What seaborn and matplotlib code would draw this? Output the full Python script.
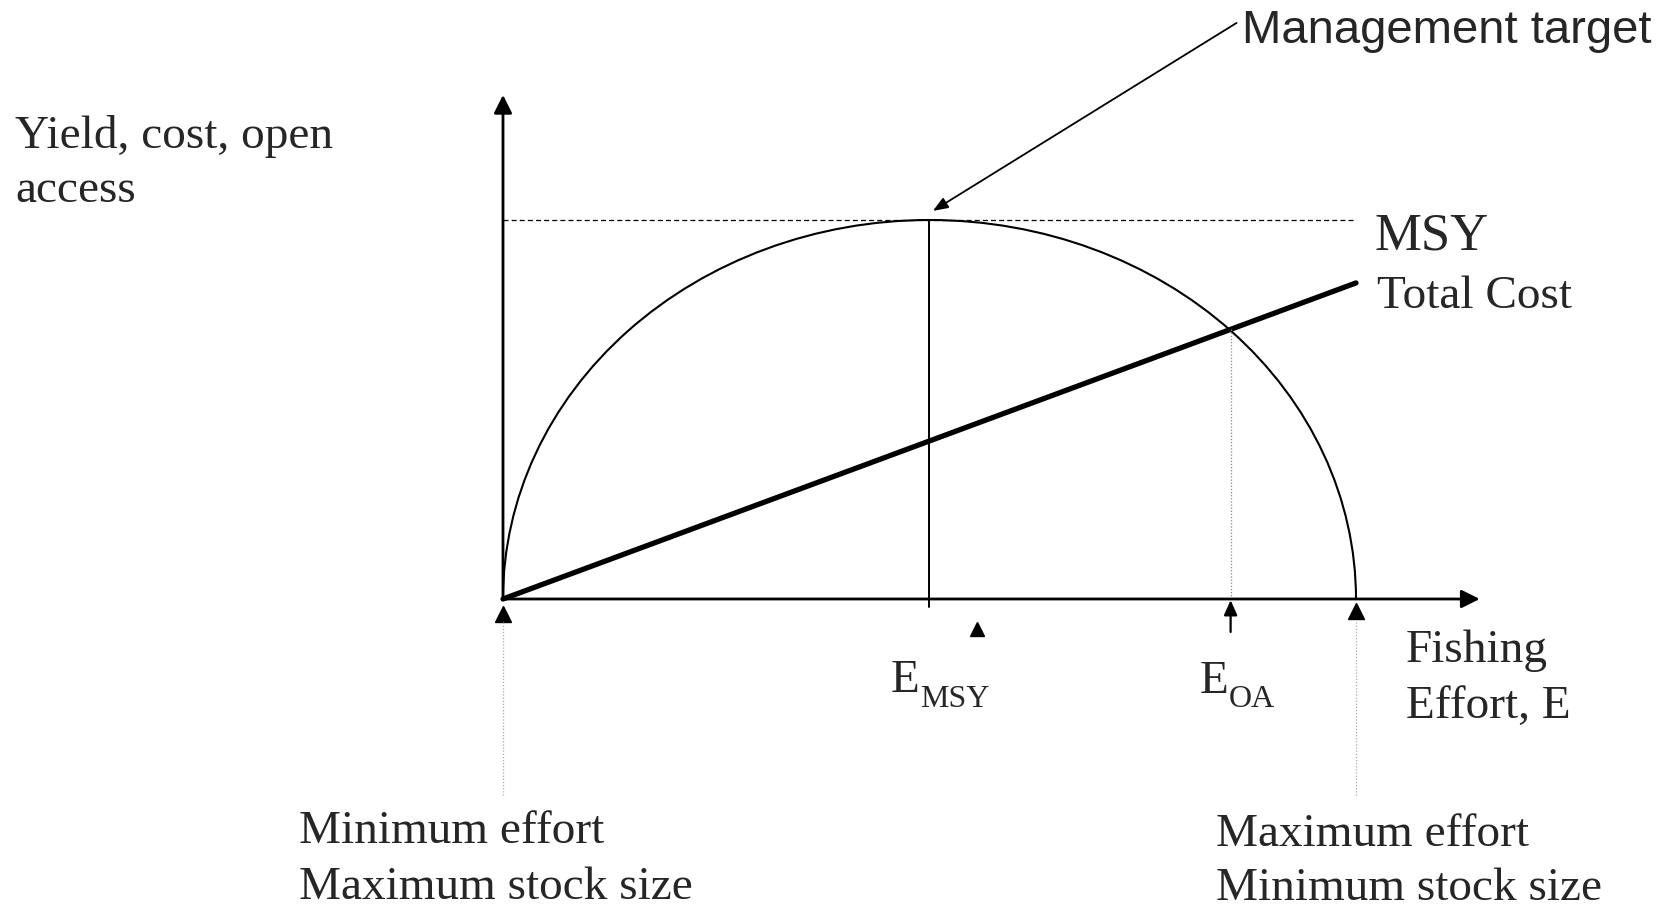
import matplotlib
matplotlib.use("Agg")
import matplotlib.pyplot as plt
from matplotlib.patches import Arc
import seaborn as sns

# conceptual bioeconomic model, effort scaled so that E_max = 100 and MSY = 100
EFFORT = [0, 100]
TOTAL_COST = [0, 83.4]
E_MSY = 50
MSY = 100
E_OA = 85.3
E_MAX = 100
X_AXIS_END = 114.5
Y_AXIS_END = 133

W, H = 1668, 911
X0_PX, Y0_PX = 503, 599      # origin in pixels
PX_X, PX_Y = 8.53, 3.79      # pixels per unit

sns.set_style("white")
plt.rcParams["font.family"] = ["Liberation Serif", "DejaVu Serif"]

fig = plt.figure(figsize=(W / 100, H / 100), dpi=100)
ax = fig.add_axes([0, 0, 1, 1])
ax.set_xlim(-X0_PX / PX_X, (W - X0_PX) / PX_X)
ax.set_ylim(-(H - Y0_PX) / PX_Y, Y0_PX / PX_Y)
ax.axis("off")


def fxy(px, py):
    return px / W, 1 - py / H


def label(px, py, s, size=34, **kw):
    x, y = fxy(px, py)
    fig.text(x, y, s, fontsize=size, va="baseline", ha="left", **kw)


# axes with arrow heads
arrow = dict(arrowstyle="-|>,head_length=1.1,head_width=0.55", color="black", lw=2.0,
             shrinkA=0, shrinkB=0)
ax.annotate("", xy=(X_AXIS_END, 0), xytext=(0, 0), arrowprops=arrow)
ax.annotate("", xy=(0, Y_AXIS_END), xytext=(0, 0), arrowprops=arrow)

# yield curve (semi-ellipse) and total cost
ax.add_patch(Arc((E_MSY, 0), E_MAX, 2 * MSY, theta1=0, theta2=180, color="black", lw=1.5))
sns.lineplot(x=EFFORT, y=TOTAL_COST, color="black", lw=3.8, ax=ax)

# MSY reference lines
ax.plot([0, E_MAX], [MSY, MSY], color="black", lw=0.9, ls=(0, (4, 2.5)))
ax.plot([E_MSY, E_MSY], [-2.1, MSY], color="black", lw=1.4)

# open access point
cost_oa = TOTAL_COST[1] * E_OA / EFFORT[1]
ax.plot([E_OA, E_OA], [0, cost_oa], color="#888888", lw=0.9, ls=(0, (1, 1.5)))
ax.annotate("", xy=(E_OA, -0.3), xytext=(E_OA, -8.7),
            arrowprops=dict(arrowstyle="-|>,head_length=0.9,head_width=0.4", color="black",
                            lw=1.6, shrinkA=0, shrinkB=0))

# effort extremes
ax.plot([0], [-3.9], marker="^", ms=11.5, color="black", ls="none")
ax.plot([E_MAX], [-3.2], marker="^", ms=11.5, color="black", ls="none")
ax.plot([55.6], [-8.0], marker="^", ms=9.5, color="black", ls="none")
for xe in [0, E_MAX]:
    ax.plot([xe, xe], [-6.1, -51.7], color="#aaaaaa", lw=0.9, ls=(0, (1, 1.5)))

# management target pointer
ax.annotate("", xy=(E_MSY + 0.4, MSY + 2.4), xytext=(86.0, 152.0),
            arrowprops=dict(arrowstyle="-|>,head_length=0.9,head_width=0.35", color="black",
                            lw=1.3, shrinkA=0, shrinkB=0))
label(1242, 43, "Management target", family=["Liberation Sans", "DejaVu Sans"])

# labels
label(15, 148, "Yield, cost, open")
label(15, 202, "access")
label(1374, 250, "MSY", size=38)
label(1377, 308, "Total Cost")
label(1406, 662, "Fishing")
label(1406, 718, "Effort, E")
label(891, 692, "E")
label(920, 707, "MSY", size=23)
label(1200, 693, "E")
label(1229, 707, "OA", size=23)
label(299, 843, "Minimum effort")
label(299, 899, "Maximum stock size")
label(1216, 846, "Maximum effort")
label(1216, 900, "Minimum stock size")

fig.savefig("out.png", dpi=100)
